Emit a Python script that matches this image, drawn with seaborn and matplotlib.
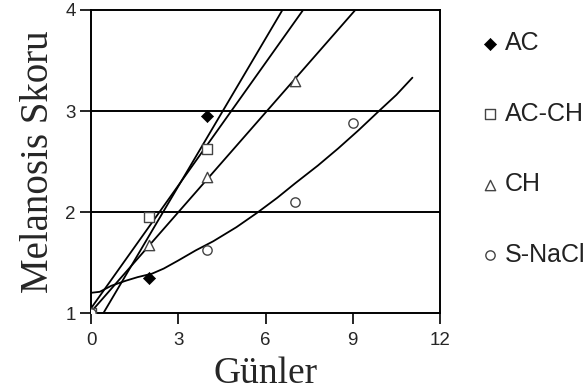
import numpy as np
import pandas as pd
import matplotlib
matplotlib.use("Agg")
import matplotlib.pyplot as plt
import seaborn as sns

# ---- data ----
ac_x = [0, 2, 4]
ac_y = [1.0, 1.35, 2.95]
acch_x = [0, 2, 4]
acch_y = [1.0, 1.95, 2.62]
ch_x = [0, 2, 4, 7]
ch_y = [1.0, 1.67, 2.35, 3.3]
snacl_x = [0, 4, 7, 9]
snacl_y = [1.0, 1.62, 2.1, 2.88]
# S-NaCl trend curve as drawn in the reference
snacl_fit_x = [0, 0.3, 0.7, 1.2, 1.6, 2.1, 2.5, 3.0, 3.6, 4.2, 5.0, 5.7, 6.4, 7.0, 7.8, 8.5, 9.2, 9.9, 10.5, 11.05]
snacl_fit_y = [1.2, 1.21, 1.27, 1.32, 1.355, 1.39, 1.44, 1.52, 1.62, 1.71, 1.85, 1.99, 2.14, 2.28, 2.46, 2.63, 2.81, 3.0, 3.16, 3.33]

x_ticks = [0, 3, 6, 9, 12]
y_ticks = [1, 2, 3, 4]
labels = ["AC", "AC-CH", "CH", "S-NaCl"]

sns.set_style("white")
plt.rcParams["font.family"] = ["Liberation Sans", "DejaVu Sans"]

fig = plt.figure(figsize=(5.85, 3.92), dpi=100)
ax = fig.add_axes([0.1556, 0.2015, 0.5966, 0.773])

line_kw = dict(color="black", linewidth=1.3)

# linear trend lines (least squares)
xx = np.linspace(0, 10, 50)
for xs, ys in [(ac_x, ac_y), (acch_x, acch_y), (ch_x, ch_y)]:
    b, a = np.polyfit(xs, ys, 1)
    sns.lineplot(x=xx, y=a + b * xx, ax=ax, **line_kw)
sns.lineplot(x=snacl_fit_x, y=snacl_fit_y, ax=ax, **line_kw)

# horizontal grid lines
for yv in [2, 3]:
    ax.axhline(yv, color="black", linewidth=1.4, zorder=1)

ms = 45
sns.scatterplot(x=ac_x, y=ac_y, marker="D", s=38, color="black", edgecolor="black",
                ax=ax, label=labels[0], zorder=5)
sns.scatterplot(x=acch_x, y=acch_y, marker="s", s=ms, facecolor="white", edgecolor="#444444",
                linewidth=1.0, ax=ax, label=labels[1], zorder=5)
sns.scatterplot(x=ch_x, y=ch_y, marker="^", s=ms + 10, facecolor="white", edgecolor="#444444",
                linewidth=1.0, ax=ax, label=labels[2], zorder=5)
sns.scatterplot(x=snacl_x, y=snacl_y, marker="o", s=ms, facecolor="white", edgecolor="#444444",
                linewidth=1.0, ax=ax, label=labels[3], zorder=6)

ax.set_xlim(0, 12)
ax.set_ylim(1, 4)
ax.set_xticks(x_ticks)
ax.set_yticks(y_ticks)
ax.tick_params(direction="out", length=8, width=1.2, labelsize=13.5, color="black",
               bottom=True, left=True)
ax.tick_params(axis="x", pad=6)
ax.tick_params(axis="y", pad=3)
for s in ax.spines.values():
    s.set_visible(True)
    s.set_color("black")
    s.set_linewidth(1.4)

ax.set_xlabel("Günler", family=["Liberation Serif", "DejaVu Serif"], fontsize=27, labelpad=5)
ax.set_ylabel("Melanosis Skoru", family=["Liberation Serif", "DejaVu Serif"], fontsize=28, labelpad=6)

leg = ax.legend(loc="upper left", bbox_to_anchor=(0.825, 0.92), bbox_transform=fig.transFigure,
                frameon=False, fontsize=18, labelspacing=1.86, handlelength=0.6,
                handletextpad=0.3, borderaxespad=0, borderpad=0)
for t in leg.get_texts():
    t.set_color("#222222")

fig.savefig("out.png", dpi=100)
